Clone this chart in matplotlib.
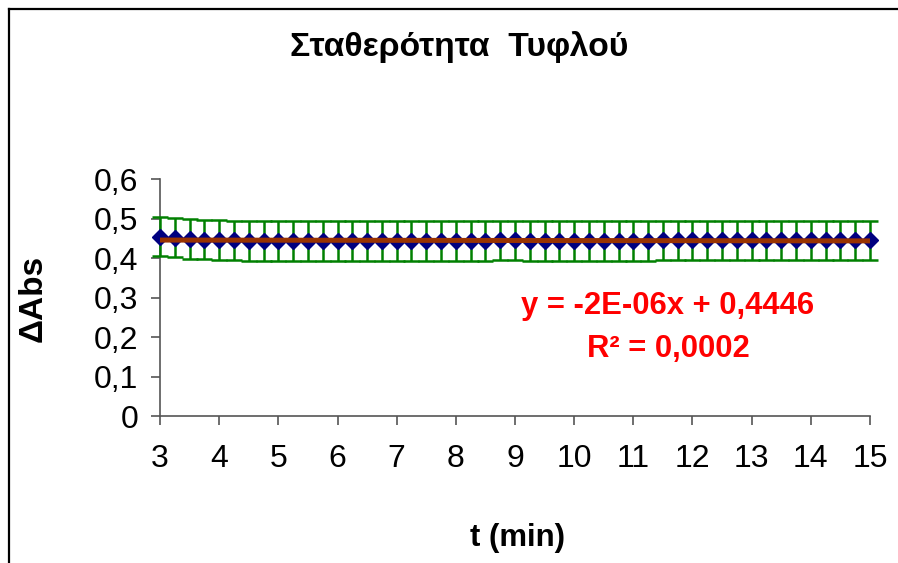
import numpy as np
import matplotlib
matplotlib.use("Agg")
import matplotlib.pyplot as plt
from matplotlib.lines import Line2D
from matplotlib.ticker import FuncFormatter, MultipleLocator

plt.rcParams['font.family'] = ['Liberation Sans', 'DejaVu Sans']

# --- dados (leitura do gráfico) ---
t_min = [3.0, 3.25, 3.5, 3.75, 4.0, 4.25, 4.5, 4.75, 5.0, 5.25,
         5.5, 5.75, 6.0, 6.25, 6.5, 6.75, 7.0, 7.25, 7.5, 7.75,
         8.0, 8.25, 8.5, 8.75, 9.0, 9.25, 9.5, 9.75, 10.0, 10.25,
         10.5, 10.75, 11.0, 11.25, 11.5, 11.75, 12.0, 12.25, 12.5, 12.75,
         13.0, 13.25, 13.5, 13.75, 14.0, 14.25, 14.5, 14.75, 15.0]
d_abs = [0.455, 0.452, 0.449, 0.447, 0.446, 0.445, 0.444, 0.444, 0.444, 0.444,
         0.444, 0.444, 0.444, 0.444, 0.444, 0.444, 0.444, 0.444, 0.444, 0.444,
         0.444, 0.444, 0.444, 0.445, 0.445, 0.444, 0.444, 0.444, 0.444, 0.444,
         0.444, 0.444, 0.444, 0.444, 0.445, 0.445, 0.445, 0.445, 0.445, 0.445,
         0.445, 0.445, 0.445, 0.445, 0.445, 0.445, 0.445, 0.445, 0.445]
err = 0.05

title = "Σταθερότητα  Τυφλού"
xlabel = "t (min)"
ylabel = "ΔAbs"
eq_text = "y = -2E-06x + 0,4446"
r2_text = "R² = 0,0002"

fig = plt.figure(figsize=(8.98, 5.63), dpi=100)
fig.patch.set_linewidth(0)
ax = fig.add_axes([0.1782, 0.2611, 0.7906, 0.4204])

# moldura do gráfico: só a borda de cima e a da esquerda aparecem
bx, by = 8.5 / 898, 1 - 8.5 / 563
fig.lines.append(Line2D([bx, 1.05], [by, by], transform=fig.transFigure,
                        color='black', linewidth=1.6))
fig.lines.append(Line2D([bx, bx], [-0.05, by], transform=fig.transFigure,
                        color='black', linewidth=1.6))

ax.errorbar(t_min, d_abs, yerr=err, fmt='D', color='#000080', markersize=8.5,
            ecolor='#008000', elinewidth=1.8, capsize=5.6, capthick=1.8,
            zorder=3, clip_on=False)

coef = np.polyfit(t_min, d_abs, 1)
tt = np.array([t_min[0], t_min[-1]])
ax.plot(tt, np.polyval(coef, tt), color='#993300', linewidth=3.6, zorder=4)

ax.set_xlim(3, 15)
ax.set_ylim(0, 0.6)
ax.xaxis.set_major_locator(MultipleLocator(1))
ax.yaxis.set_major_locator(MultipleLocator(0.1))
ax.yaxis.set_major_formatter(FuncFormatter(lambda v, p: f"{v:.1f}".replace('.', ',') if v > 1e-9 else "0"))

for s in ['top', 'right']:
    ax.spines[s].set_visible(False)
for s in ['left', 'bottom']:
    ax.spines[s].set_color('#555555')
    ax.spines[s].set_linewidth(1.2)
ax.tick_params(direction='out', length=6.5, width=1.2, color='#555555',
               labelsize=23, pad=14)
ax.tick_params(axis='y', pad=9)

fig.text(459 / 898, 1 - 47 / 563, title, ha='center', va='center',
         fontsize=24.3, fontweight='bold')
fig.text(517 / 898, 1 - 538 / 563, xlabel, ha='center', va='center',
         fontsize=22.4, fontweight='bold')
fig.text(33 / 898, 1 - 298 / 563, ylabel, ha='center', va='center',
         rotation=90, fontsize=24, fontweight='bold')

fig.text(668 / 898, 1 - 306 / 563, eq_text, ha='center', va='center',
         fontsize=22.3, fontweight='bold', color='#ff0000')
fig.text(668 / 898, 1 - 349 / 563, r2_text, ha='center', va='center',
         fontsize=22.3, fontweight='bold', color='#ff0000')

fig.savefig("out.png", dpi=100)
